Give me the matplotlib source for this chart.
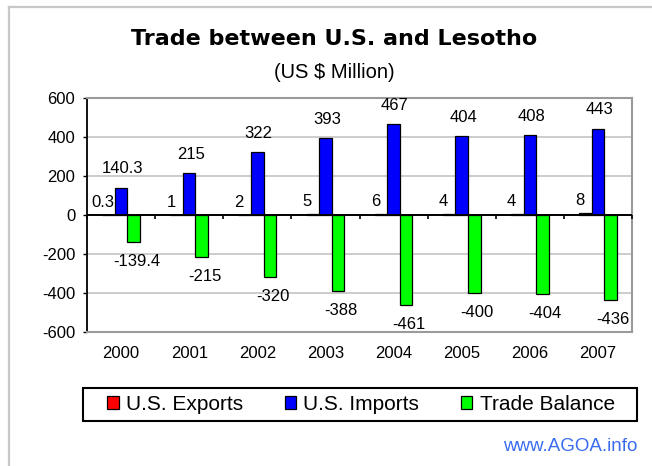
import numpy as np
import matplotlib
matplotlib.use("Agg")
import matplotlib.pyplot as plt
from matplotlib.patches import Rectangle
from matplotlib.lines import Line2D, TICKDOWN

plt.rcParams['font.family'] = ['Liberation Sans', 'DejaVu Sans']
plt.rcParams['axes.unicode_minus'] = False

years = ['2000', '2001', '2002', '2003', '2004', '2005', '2006', '2007']
exports = [0.3, 1, 2, 5, 6, 4, 4, 8]
imports = [140.3, 215, 322, 393, 467, 404, 408, 443]
balance = [-139.4, -215, -320, -388, -461, -400, -404, -436]
series_names = ['U.S. Exports', 'U.S. Imports', 'Trade Balance']
series_colors = ['#ff0000', '#0000ff', '#00ff00']
yticks = [-600, -400, -200, 0, 200, 400, 600]

W, H = 652, 466
fig = plt.figure(figsize=(W / 100, H / 100), dpi=100)

def fx(px):
    return px / W

def fy(py):
    return 1 - py / H

# outer frame (top and left gray lines)
fig.add_artist(Line2D([fx(9), 1], [fy(7), fy(7)], color='#c8c8c8', lw=1.6))
fig.add_artist(Line2D([fx(9), fx(9)], [fy(7), 0], color='#c8c8c8', lw=1.6))

ax = fig.add_axes([fx(87), fy(332), fx(632 - 87), (332 - 98) / H])

x = np.arange(len(years))
w = 0.185
data = [exports, imports, balance]
bars = []
for i, (vals, name, col) in enumerate(zip(data, series_names, series_colors)):
    b = ax.bar(x + (i - 1) * w, vals, w, color=col, edgecolor='black',
               linewidth=0.9, label=name, zorder=3)
    bars.append(b)

lab_fs = 12
for xi, v in zip(x, exports):
    ax.annotate(f'{v:g}', (xi - w, v), xytext=(-4, 9), textcoords='offset points',
                ha='center', va='center', fontsize=lab_fs, zorder=2)
for xi, v in zip(x, imports):
    ax.annotate(f'{v:g}', (xi, v), xytext=(1, 13.5), textcoords='offset points',
                ha='center', va='center', fontsize=lab_fs, zorder=4)
for xi, v in zip(x, balance):
    ax.annotate(f'{v:g}', (xi + w, v), xytext=(2, -14), textcoords='offset points',
                ha='center', va='center', fontsize=lab_fs, zorder=4)

ax.set_xlim(-0.5, len(years) - 0.5)
ax.set_ylim(yticks[0], yticks[-1])
ax.set_yticks(yticks)
ax.set_yticklabels([str(t) for t in yticks], fontsize=12)
ax.set_xticks(x)
ax.set_xticklabels(years, fontsize=12)
ax.tick_params(axis='x', length=0, pad=10)
ax.tick_params(axis='y', length=3, width=1, color='black', pad=5.5)

ax.yaxis.grid(True, color='#c4c4c4', lw=1.2)
ax.set_axisbelow(True)
for s in ['top', 'right', 'bottom']:
    ax.spines[s].set_color('#9a9a9a')
    ax.spines[s].set_linewidth(1.5)
ax.spines['left'].set_color('black')
ax.spines['left'].set_linewidth(1.3)

# zero line with category boundary ticks
ax.axhline(0, color='black', lw=1.4, zorder=3.5)
bounds = np.arange(len(years) + 1) - 0.5
ax.plot(bounds, np.zeros_like(bounds), linestyle='none', marker=TICKDOWN,
        markersize=3, markeredgewidth=1.2, color='black', zorder=3.5, clip_on=False)

# titles
fig.text(fx(334), fy(45), 'Trade between U.S. and Lesotho', ha='center',
         va='baseline', fontsize=16, fontweight='bold', family='DejaVu Sans')
fig.text(fx(334), fy(78), '(US $ Million)', ha='center', va='baseline', fontsize=14.5)

# legend
fig.add_artist(Rectangle((fx(83), fy(421)), fx(637 - 83), (421 - 388) / H,
                         fill=False, edgecolor='black', lw=1.5))
fig.legend(handles=bars, labels=series_names, loc='center', ncol=3,
           bbox_to_anchor=(fx(361), fy(404.5)), frameon=False, fontsize=15,
           handlelength=0.55, handleheight=0.55, handletextpad=0.35,
           columnspacing=2.0, borderpad=0.1)

fig.text(fx(637), fy(451), 'www.AGOA.info', ha='right', va='baseline',
         fontsize=13.5, color='#3a6cf0')

fig.savefig('out.png', dpi=100)
